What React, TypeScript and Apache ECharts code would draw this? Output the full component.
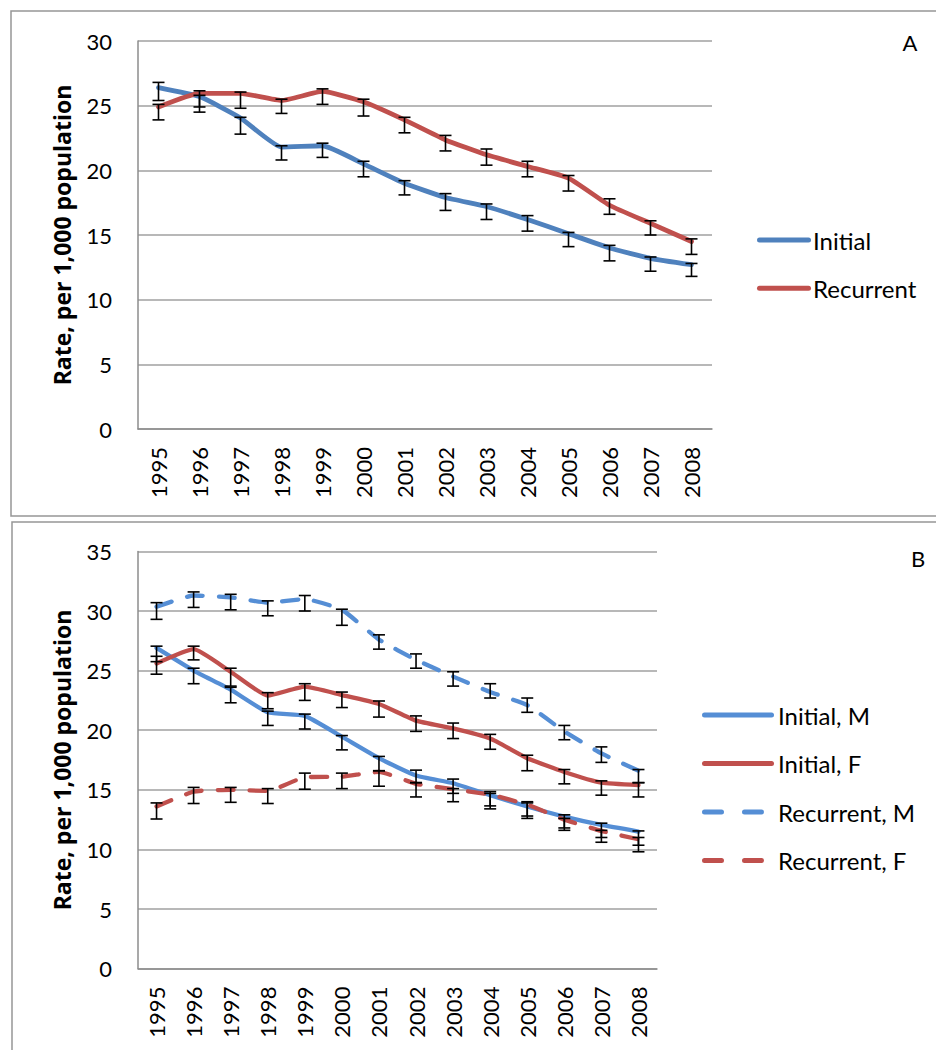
import React, { useEffect, useRef } from "react";
import * as echarts from "echarts";

const years = ["1995", "1996", "1997", "1998", "1999", "2000", "2001", "2002", "2003", "2004", "2005", "2006", "2007", "2008"];

// Panel A
const initialA = [26.4, 25.7, 24.05, 21.8, 21.9, 20.5, 19.0, 17.9, 17.2, 16.2, 15.1, 14.0, 13.2, 12.7];
const initialALow = [25.4, 24.5, 22.8, 20.8, 21.0, 19.5, 18.1, 16.9, 16.2, 15.3, 14.1, 13.0, 12.2, 11.8];
const initialAHigh = [26.8, 25.8, 24.1, 21.9, 22.1, 20.7, 19.2, 18.2, 17.4, 16.5, 15.2, 14.2, 13.3, 12.8];
const recurrentA = [24.9, 25.95, 25.95, 25.4, 26.1, 25.3, 23.9, 22.35, 21.2, 20.3, 19.4, 17.3, 15.9, 14.5];
const recurrentALow = [23.9, 24.9, 24.8, 24.4, 25.1, 24.2, 22.9, 21.5, 20.4, 19.5, 18.4, 16.6, 15.0, 13.5];
const recurrentAHigh = [25.1, 26.15, 26.05, 25.5, 26.3, 25.5, 24.1, 22.7, 21.65, 20.7, 19.6, 17.8, 16.1, 14.7];

// Panel B
const initialM = [26.9, 25.0, 23.4, 21.5, 21.2, 19.45, 17.65, 16.2, 15.55, 14.55, 13.6, 12.75, 12.05, 11.5];
const initialMLow = [25.75, 23.9, 22.3, 20.4, 20.1, 18.35, 16.6, 15.6, 14.7, 13.65, 12.8, 11.8, 11.0, 10.35];
const initialMHigh = [27.05, 25.2, 23.6, 21.6, 21.35, 19.55, 17.8, 16.65, 15.9, 14.85, 14.0, 12.9, 12.2, 11.55];
const initialF = [25.6, 26.8, 24.9, 22.9, 23.65, 22.95, 22.2, 20.8, 20.15, 19.3, 17.65, 16.5, 15.6, 15.4];
const initialFLow = [24.7, 25.9, 23.7, 21.8, 22.5, 21.9, 21.1, 19.9, 19.3, 18.4, 16.6, 15.5, 14.55, 14.4];
const initialFHigh = [26.2, 27.05, 25.2, 23.15, 23.9, 23.2, 22.45, 21.2, 20.6, 19.65, 17.9, 16.7, 15.75, 15.6];
const recurrentM = [30.35, 31.3, 31.15, 30.7, 31.0, 30.1, 27.6, 25.9, 24.5, 23.2, 22.1, 19.9, 18.05, 16.6];
const recurrentMLow = [29.3, 30.3, 30.1, 29.6, 30.0, 28.8, 26.8, 25.2, 23.7, 22.7, 21.5, 19.2, 17.3, 15.6];
const recurrentMHigh = [30.7, 31.6, 31.4, 30.85, 31.3, 30.15, 28.0, 26.4, 24.9, 23.9, 22.7, 20.4, 18.6, 16.7];
const recurrentF = [13.6, 14.85, 15.0, 14.9, 16.05, 16.1, 16.5, 15.5, 15.05, 14.6, 13.75, 12.5, 11.55, 10.85];
const recurrentFLow = [12.55, 13.85, 13.95, 13.85, 15.05, 15.1, 15.3, 14.4, 14.0, 13.4, 12.6, 11.6, 10.6, 9.8];
const recurrentFHigh = [13.9, 15.2, 15.2, 15.1, 16.4, 16.4, 16.6, 15.6, 15.1, 14.7, 13.9, 12.6, 11.6, 11.0];

const FONT = "Lato, 'Noto Sans', sans-serif";
const TITLE_FONT = "'Open Sans', Lato, sans-serif";
const BLUE_A = "#4F81BD";
const RED = "#C0504D";
const BLUE_B = "#558ED5";

const ICON_SOLID_A = "path://M2.5,0H51.5A2.5,2.5 0 0 1 51.5,5H2.5A2.5,2.5 0 0 1 2.5,0Z";
const ICON_SOLID_B = "path://M2.5,0H69.5A2.5,2.5 0 0 1 69.5,5H2.5A2.5,2.5 0 0 1 2.5,0Z";
const ICON_DASH_B =
  "path://M2.5,0H19.5A2.5,2.5 0 0 1 19.5,5H2.5A2.5,2.5 0 0 1 2.5,0Z M42.5,0H59.5A2.5,2.5 0 0 1 59.5,5H42.5A2.5,2.5 0 0 1 42.5,0Z M71.9,2.4H72V2.6H71.9Z";

function errorSeries(name: string, low: number[], high: number[], axisIndex: number) {
  return {
    name,
    type: "custom",
    xAxisIndex: axisIndex,
    yAxisIndex: axisIndex,
    z: 5,
    data: low.map((l, i) => [i, l, high[i]]),
    renderItem: (params: any, api: any) => {
      const x = api.value(0);
      const lo = api.coord([x, api.value(1)]);
      const hi = api.coord([x, api.value(2)]);
      const hw = 6;
      const style = { stroke: "#000", lineWidth: 1.6 };
      return {
        type: "group",
        children: [
          { type: "line", shape: { x1: lo[0], y1: lo[1], x2: hi[0], y2: hi[1] }, style },
          { type: "line", shape: { x1: lo[0] - hw, y1: lo[1], x2: lo[0] + hw, y2: lo[1] }, style },
          { type: "line", shape: { x1: hi[0] - hw, y1: hi[1], x2: hi[0] + hw, y2: hi[1] }, style },
        ],
      };
    },
  };
}

function lineSeries(name: string, data: number[], color: string, axisIndex: number, dashed: boolean, width: number) {
  return {
    name,
    type: "line",
    xAxisIndex: axisIndex,
    yAxisIndex: axisIndex,
    data,
    symbol: "none",
    smooth: 0.15,
    z: 3,
    lineStyle: {
      color,
      width,
      type: dashed ? [16, 16] : "solid",
      cap: "round",
      join: "round",
    },
    itemStyle: { color },
  };
}

function xAxisFor(gridIndex: number) {
  return {
    type: "category",
    gridIndex,
    data: years,
    boundaryGap: true,
    axisLine: { show: true, lineStyle: { color: "#8c8c8c", width: 1.5 } },
    axisTick: { show: false },
    axisLabel: { rotate: 90, fontSize: 22, color: "#000", margin: 18, fontFamily: FONT },
    splitLine: { show: false },
  };
}

function yAxisFor(gridIndex: number, max: number) {
  return {
    type: "value",
    gridIndex,
    min: 0,
    max,
    interval: 5,
    axisLine: { show: true, lineStyle: { color: "#8c8c8c", width: 1.5 } },
    axisTick: { show: false },
    axisLabel: { fontSize: 22, color: "#000", margin: 26, fontFamily: FONT },
    splitLine: { show: true, lineStyle: { color: "#a0a0a0", width: 1.5 } },
    name: "Rate, per 1,000 population",
    nameLocation: "middle",
    nameGap: 65,
    nameTextStyle: { fontSize: 23, fontWeight: "bold", color: "#000", fontFamily: TITLE_FONT },
  };
}

export default function App() {
  const ref = useRef<HTMLDivElement>(null);
  useEffect(() => {
    if (!ref.current) return;
    const chart = echarts.init(ref.current, null, { renderer: "svg" });
    chart.setOption({
      animation: false,
      backgroundColor: "#fff",
      grid: [
        { left: 138, top: 41, width: 574, height: 388 },
        { left: 138, top: 551.4, width: 519, height: 417.2 },
      ],
      xAxis: [xAxisFor(0), xAxisFor(1)],
      yAxis: [yAxisFor(0, 30), yAxisFor(1, 35)],
      legend: [
        {
          data: [
            { name: "Initial", icon: ICON_SOLID_A },
            { name: "Recurrent", icon: ICON_SOLID_A },
          ],
          orient: "vertical",
          left: 752,
          top: 223,
          itemWidth: 54,
          itemHeight: 5,
          itemGap: 24.3,
          textStyle: { fontSize: 24, color: "#000", fontFamily: FONT, padding: [0, 0, 0, -3] },
        },
        {
          data: [
            { name: "Initial, M", icon: ICON_SOLID_B },
            { name: "Initial, F", icon: ICON_SOLID_B },
            { name: "Recurrent, M", icon: ICON_DASH_B },
            { name: "Recurrent, F", icon: ICON_DASH_B },
          ],
          orient: "vertical",
          left: 697,
          top: 698,
          itemWidth: 72,
          itemHeight: 5,
          itemGap: 24.5,
          textStyle: { fontSize: 24, color: "#000", fontFamily: FONT, padding: [0, 0, 0, -1] },
        },
      ],
      graphic: [
        { type: "rect", shape: { x: 11, y: 11, width: 940, height: 505 }, style: { fill: "none", stroke: "#969696", lineWidth: 1.5 }, silent: true },
        { type: "rect", shape: { x: 12, y: 522, width: 940, height: 540 }, style: { fill: "none", stroke: "#969696", lineWidth: 1.5 }, silent: true },
        { type: "text", x: 910, y: 42, style: { text: "A", fontSize: 22, fill: "#000", fontFamily: FONT, align: "center", verticalAlign: "middle" } },
        { type: "text", x: 918, y: 558, style: { text: "B", fontSize: 22, fill: "#000", fontFamily: FONT, align: "center", verticalAlign: "middle" } },
      ],
      series: [
        lineSeries("Initial", initialA, BLUE_A, 0, false, 4.8),
        lineSeries("Recurrent", recurrentA, RED, 0, false, 4.8),
        errorSeries("errInitial", initialALow, initialAHigh, 0),
        errorSeries("errRecurrent", recurrentALow, recurrentAHigh, 0),
        lineSeries("Initial, M", initialM, BLUE_B, 1, false, 4.3),
        lineSeries("Initial, F", initialF, RED, 1, false, 4.3),
        lineSeries("Recurrent, M", recurrentM, BLUE_B, 1, true, 4.3),
        lineSeries("Recurrent, F", recurrentF, RED, 1, true, 4.3),
        errorSeries("errInitialM", initialMLow, initialMHigh, 1),
        errorSeries("errInitialF", initialFLow, initialFHigh, 1),
        errorSeries("errRecurrentM", recurrentMLow, recurrentMHigh, 1),
        errorSeries("errRecurrentF", recurrentFLow, recurrentFHigh, 1),
      ],
    });
    return () => chart.dispose();
  }, []);
  return (
    <div
      ref={ref}
      style={{ position: "absolute", left: 0, top: 0, width: 936, height: 1050, background: "#fff" }}
    />
  );
}
